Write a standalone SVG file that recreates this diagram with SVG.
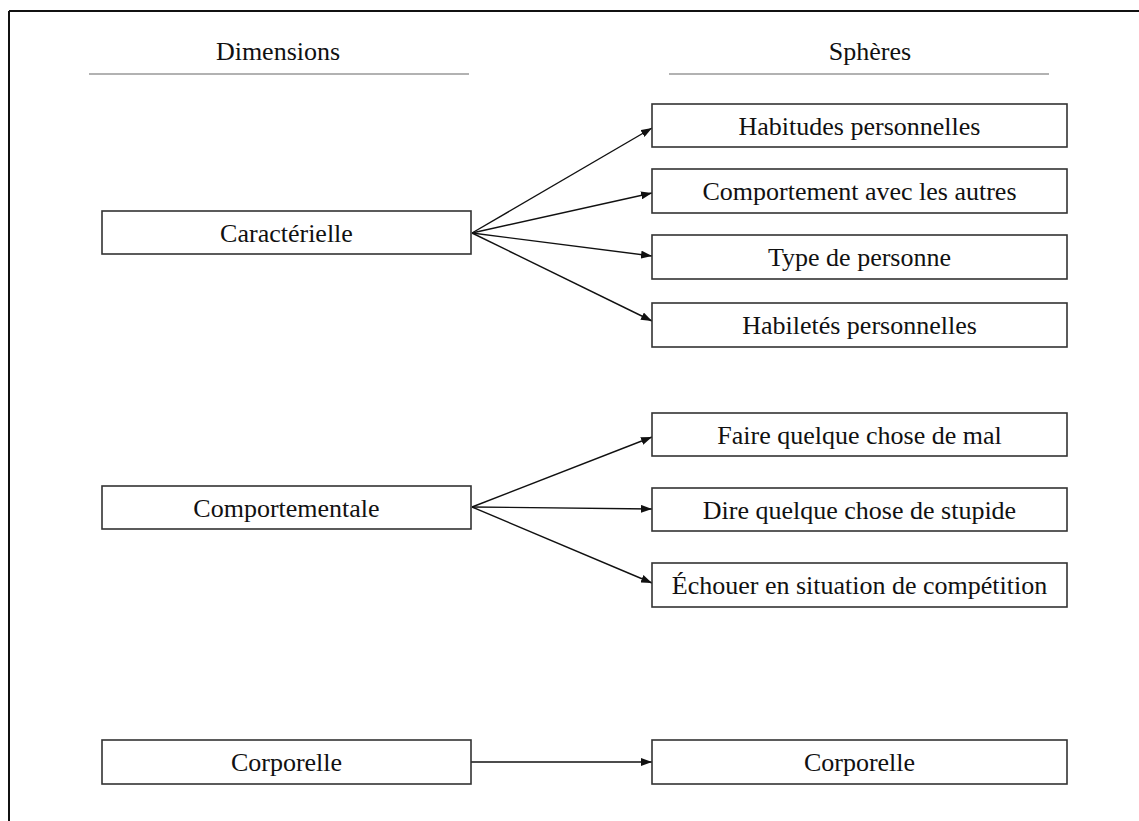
<svg xmlns="http://www.w3.org/2000/svg" width="1139" height="821" viewBox="0 0 1139 821">
<defs>
<style>
.box{fill:#fff;stroke:#333;stroke-width:1.6}
.t{font-family:"Liberation Serif","Times New Roman",serif;font-size:26px;fill:#111;text-anchor:middle}
.hl{stroke:#999;stroke-width:1.3}
.c{stroke:#111;stroke-width:1.4;fill:none;marker-end:url(#ah)}
</style>
<marker id="ah" markerUnits="userSpaceOnUse" markerWidth="11" markerHeight="8" refX="11" refY="4" orient="auto">
<path d="M0,0 L11,4 L0,8 z" fill="#111"/>
</marker>
</defs>
<rect x="0" y="0" width="1139" height="821" fill="#fff"/>
<g id="frame" stroke="#111" stroke-width="2" fill="none">
<line x1="9" y1="11" x2="1139" y2="11"/>
<line x1="9" y1="11" x2="9" y2="821"/>
</g>
<g id="header-dimensions">
<text class="t" x="278" y="60">Dimensions</text>
<line class="hl" x1="89" y1="74" x2="469" y2="74"/>
</g>
<g id="header-spheres">
<text class="t" x="870" y="60">Sphères</text>
<line class="hl" x1="669" y1="74" x2="1049" y2="74"/>
</g>
<g id="connectors">
<line class="c" x1="472" y1="233" x2="652" y2="128"/>
<line class="c" x1="472" y1="233" x2="652" y2="193"/>
<line class="c" x1="472" y1="233" x2="652" y2="256"/>
<line class="c" x1="472" y1="233" x2="652" y2="321"/>
<line class="c" x1="472" y1="507" x2="652" y2="437"/>
<line class="c" x1="472" y1="507" x2="652" y2="509"/>
<line class="c" x1="472" y1="507" x2="652" y2="583"/>
<line class="c" x1="471" y1="762" x2="652" y2="762"/>
</g>
<g id="caracterielle"><rect class="box" x="102" y="211" width="369" height="43"/><text class="t" x="286.5" y="242">Caractérielle</text></g>
<g id="comportementale"><rect class="box" x="102" y="486" width="369" height="43"/><text class="t" x="286.5" y="517">Comportementale</text></g>
<g id="corporelle-dim"><rect class="box" x="102" y="740" width="369" height="44"/><text class="t" x="286.5" y="771">Corporelle</text></g>
<g id="habitudes"><rect class="box" x="652" y="104" width="415" height="43"/><text class="t" x="859.5" y="135">Habitudes personnelles</text></g>
<g id="comportement-autres"><rect class="box" x="652" y="169" width="415" height="44"/><text class="t" x="859.5" y="200">Comportement avec les autres</text></g>
<g id="type-personne"><rect class="box" x="652" y="235" width="415" height="44"/><text class="t" x="859.5" y="266">Type de personne</text></g>
<g id="habiletes"><rect class="box" x="652" y="303" width="415" height="44"/><text class="t" x="859.5" y="334">Habiletés personnelles</text></g>
<g id="faire-mal"><rect class="box" x="652" y="413" width="415" height="43"/><text class="t" x="859.5" y="444">Faire quelque chose de mal</text></g>
<g id="dire-stupide"><rect class="box" x="652" y="488" width="415" height="43"/><text class="t" x="859.5" y="519">Dire quelque chose de stupide</text></g>
<g id="echouer"><rect class="box" x="652" y="563" width="415" height="44"/><text class="t" x="859.5" y="594">Échouer en situation de compétition</text></g>
<g id="corporelle-sphere"><rect class="box" x="652" y="740" width="415" height="44"/><text class="t" x="859.5" y="771">Corporelle</text></g>
</svg>
